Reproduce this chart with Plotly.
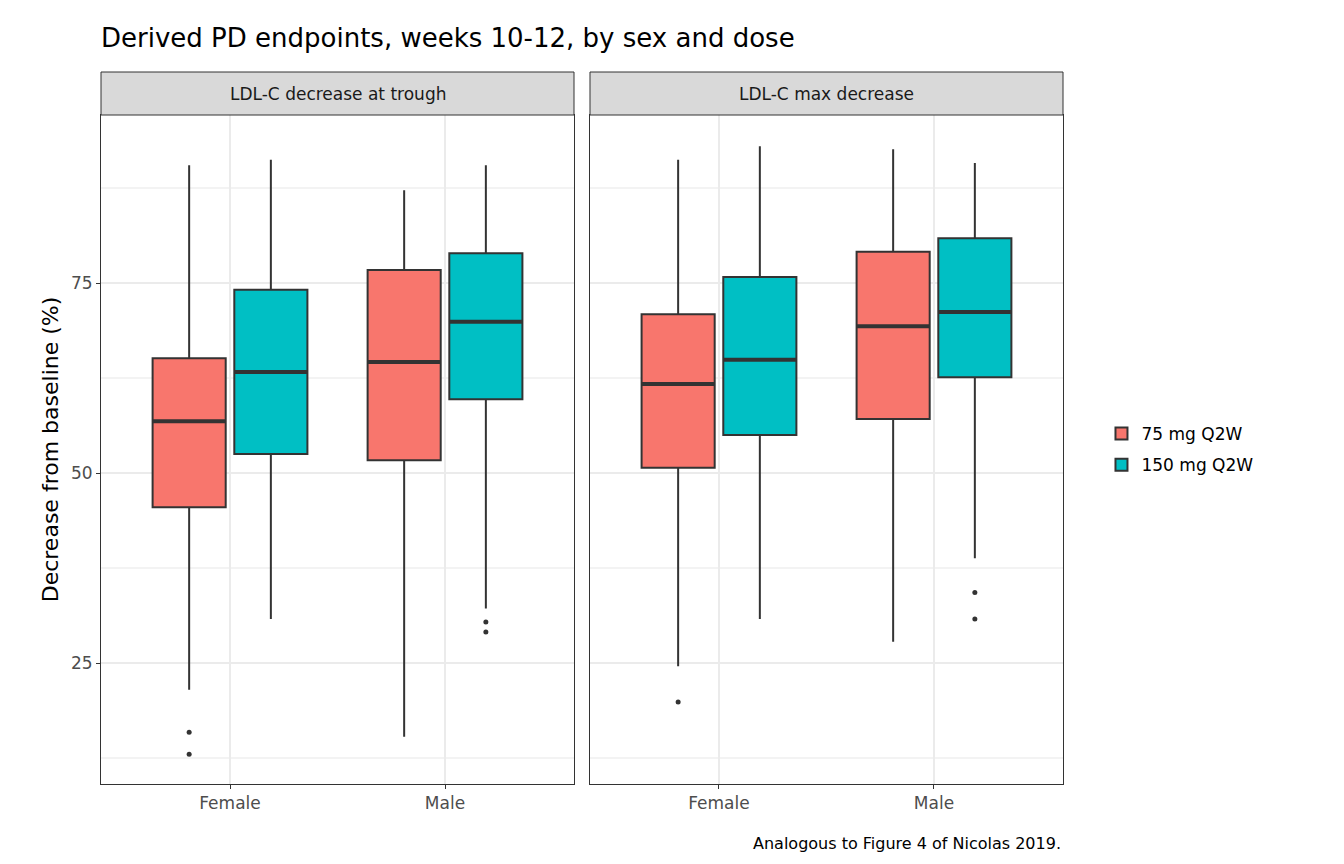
import plotly.graph_objects as go

panels = ["LDL-C decrease at trough", "LDL-C max decrease"]
sexes = ["Female", "Male"]
doses = ["75 mg Q2W", "150 mg Q2W"]
colors = ["#F8766D", "#00BFC4"]
# [panel][dose][sex]
q1 = [[[45.5, 51.7], [52.5, 59.7]], [[50.7, 57.1], [55.0, 62.6]]]
med = [[[56.8, 64.6], [63.3, 69.9]], [[61.7, 69.3], [64.9, 71.2]]]
q3 = [[[65.1, 76.7], [74.1, 78.9]], [[70.9, 79.1], [75.8, 80.9]]]
lo = [[[21.5, 15.3], [30.8, 32.2]], [[24.6, 27.8], [30.8, 38.8]]]
hi = [[[90.5, 87.2], [91.2, 90.5]], [[91.2, 92.6], [93.0, 90.8]]]
outliers = [[[[15.9, 13.0], []], [[], [30.4, 29.1]]],
            [[[19.9], []], [[], [34.3, 30.8]]]]

fig = go.Figure()
offs = [-0.19, 0.19]
bw = 0.34
for p in range(2):
    xa = "x" if p == 0 else "x2"
    ya = "y" if p == 0 else "y2"
    for d in range(2):
        for s in range(2):
            xc = s + 1 + offs[d]
            fig.add_trace(go.Box(
                x=[xc], q1=[q1[p][d][s]], median=[med[p][d][s]], q3=[q3[p][d][s]],
                lowerfence=[lo[p][d][s]], upperfence=[hi[p][d][s]],
                width=bw, whiskerwidth=0, boxpoints=False,
                fillcolor=colors[d], line=dict(color="#333333", width=2),
                name=doses[d], legendgroup=doses[d],
                showlegend=(p == 0 and s == 0), xaxis=xa, yaxis=ya))
            fig.add_trace(go.Scatter(
                x=[xc - bw / 2, xc + bw / 2], y=[med[p][d][s]] * 2, mode="lines",
                line=dict(color="#333333", width=4), showlegend=False,
                xaxis=xa, yaxis=ya, hoverinfo="skip"))
            if outliers[p][d][s]:
                fig.add_trace(go.Scatter(
                    x=[xc] * len(outliers[p][d][s]), y=outliers[p][d][s], mode="markers",
                    marker=dict(color="#333333", size=5), showlegend=False,
                    xaxis=xa, yaxis=ya, hoverinfo="y"))

axx = dict(range=[0.4, 2.6], tickvals=[1, 2], ticktext=sexes, showgrid=True,
           gridcolor="#EBEBEB", gridwidth=1.5, zeroline=False, showline=True, mirror=True,
           linecolor="#333333", ticks="outside", ticklen=4, tickcolor="#333333",
           tickfont=dict(size=17, color="#4D4D4D"))
axy = dict(range=[9.1, 97.1], tickvals=[25, 50, 75], showgrid=True, gridcolor="#EBEBEB",
           gridwidth=1.5, zeroline=False, showline=True, mirror=True, linecolor="#333333",
           ticks="outside", ticklen=4, tickcolor="#333333",
           tickfont=dict(size=17, color="#4D4D4D"),
           minor=dict(tickvals=[12.5, 37.5, 62.5, 87.5], showgrid=True, gridcolor="#F3F3F3", ticks=""))

fig.update_layout(
    width=1344, height=864, template="none", plot_bgcolor="white", paper_bgcolor="white",
    font=dict(family="DejaVu Sans", color="black"),
    margin=dict(l=93, r=289, t=107, b=88, autoexpand=False),
    boxmode="overlay",
    xaxis=dict(axx, domain=[0, 0.4917], anchor="y"),
    xaxis2=dict(axx, domain=[0.5083, 1], anchor="y2"),
    yaxis=dict(axy, domain=[0, 1], anchor="x",
               title=dict(text="Decrease from baseline (%)", font=dict(size=22), standoff=6)),
    yaxis2=dict(axy, domain=[0, 1], anchor="x2", showticklabels=False, ticks=""),
    legend=dict(x=1.04, y=0.5, xanchor="left", yanchor="middle", font=dict(size=17), tracegroupgap=6),
    title=dict(text="Derived PD endpoints, weeks 10-12, by sex and dose", x=93/1344, xanchor="left",
               y=1 - 30/864, yanchor="middle", font=dict(size=26)),
)
strip_h = 43 / 669
for i, (x0, x1) in enumerate([(0, 0.4917), (0.5083, 1)]):
    fig.add_shape(type="rect", xref="paper", yref="paper", x0=x0, x1=x1, y0=1, y1=1 + strip_h,
                  fillcolor="#D9D9D9", line=dict(color="#333333", width=1))
    fig.add_annotation(xref="paper", yref="paper", x=(x0 + x1) / 2, y=1 + strip_h / 2,
                       xanchor="center", yanchor="middle",
                       text=panels[i], showarrow=False, font=dict(size=17, color="#1A1A1A"))
fig.add_annotation(xref="paper", yref="paper", x=1, y=-59/669, xanchor="right", yanchor="middle",
                   text="Analogous to Figure 4 of Nicolas 2019.", showarrow=False, font=dict(size=16))
fig.write_html("out.html")
